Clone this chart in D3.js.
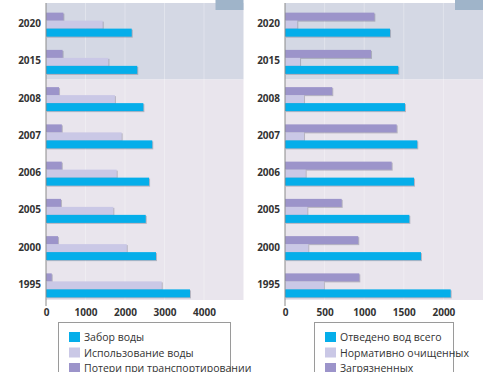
<!DOCTYPE html>
<html>
<head>
<meta charset="utf-8">
<script src="https://cdn.jsdelivr.net/npm/d3@7"></script>
<style>
  body { margin: 0; background: #fff; }
  text { font-family: "Open Sans", "Noto Sans", sans-serif; }
</style>
</head>
<body>
<script>
// years, top to bottom
var years = ["2020", "2015", "2008", "2007", "2006", "2005", "2000", "1995"];

// left panel: water intake / use / losses
var zabor = [2170, 2310, 2465, 2690, 2610, 2525, 2785, 3645];
var ispolz = [1435, 1580, 1745, 1915, 1790, 1705, 2045, 2930];
var poteri = [440, 420, 330, 400, 400, 380, 305, 145];
var leftTicks = [0, 1000, 2000, 3000, 4000];
var leftLegend = ["Забор воды", "Использование воды", "Потери при транспортировании"];

// right panel: discharged / treated / polluted
var otvedeno = [1326, 1430, 1515, 1670, 1629, 1570, 1717, 2092];
var ochisch = [155, 190, 240, 240, 261, 282, 294, 492];
var zagryaz = [1128, 1086, 597, 1410, 1347, 716, 925, 938];
var rightTicks = [0, 500, 1000, 1500, 2000];
var rightLegend = ["Отведено вод всего", "Нормативно очищенных", "Загрязненных"];

var colors = ["#05aeea", "#cac8e6", "#9c94ca"];

var width = 503, height = 372;
var svg = d3.select("body").append("svg")
    .attr("width", width)
    .attr("height", height);

var y = d3.scaleBand()
    .domain(years)
    .range([5, 303]);

drawPanel({
    x0: 46, x1: 243.5, max: 5000,
    ticks: leftTicks,
    series: [poteri, ispolz, zabor],
    legend: leftLegend,
    box: [58, 230]
});
drawPanel({
    x0: 285, x1: 483, max: 2500,
    ticks: rightTicks,
    series: [zagryaz, ochisch, otvedeno],
    legend: rightLegend,
    box: [314, 453]
});

function drawPanel(p){
    var x = d3.scaleLinear().domain([0, p.max]).range([p.x0, p.x1]);
    var g = svg.append("g");
    var split = y("2008");

    // backgrounds: forecast part darker
    g.append("rect")
        .attr("x", p.x0).attr("y", 3)
        .attr("width", p.x1 - p.x0).attr("height", split - 3)
        .attr("fill", "#d4d8e4");
    g.append("rect")
        .attr("x", p.x0).attr("y", split)
        .attr("width", p.x1 - p.x0).attr("height", 300 - split)
        .attr("fill", "#e9e5ed");
    // small tab in top corner
    g.append("rect")
        .attr("x", p.x1 - 28).attr("y", 0)
        .attr("width", 28).attr("height", 10)
        .attr("fill", "#9fb4c9");

    // faint grid
    g.selectAll(".grid")
        .data(p.ticks.slice(1))
        .enter().append("line")
        .attr("x1", function(d){ return x(d); })
        .attr("x2", function(d){ return x(d); })
        .attr("y1", 3).attr("y2", 300)
        .attr("stroke", "#ffffff").attr("stroke-opacity", 0.3);

    // bars: top = dark, middle = light, bottom = blue
    var offs = [-11, -3, 5];
    var order = [2, 1, 0]; // colour index for each series in p.series
    p.series.forEach(function(vals, s){
        g.selectAll(".b" + s)
            .data(vals)
            .enter().append("rect")
            .attr("x", x(0))
            .attr("y", function(d, i){ return y(years[i]) + y.bandwidth() / 2 + offs[s]; })
            .attr("width", function(d){ return x(d) - x(0); })
            .attr("height", 8)
            .attr("fill", colors[order[s]])
            .style("filter", "drop-shadow(1px 1px 0.6px rgba(90,90,110,0.35))");
    });

    // year labels
    g.selectAll(".yr")
        .data(years)
        .enter().append("text")
        .attr("x", p.x0 - 5)
        .attr("y", function(d){ return y(d) + y.bandwidth() / 2 + 3.5; })
        .attr("text-anchor", "end")
        .attr("font-size", 10).attr("font-weight", "bold")
        .attr("fill", "#333")
        .text(function(d){ return d; });

    // axis line
    g.append("line")
        .attr("x1", p.x0).attr("x2", p.x0)
        .attr("y1", 3).attr("y2", 306)
        .attr("stroke", "#8a8a8a");

    // tick labels
    var ax = d3.axisBottom(x).tickValues(p.ticks).tickFormat(d3.format("d"))
        .tickSize(0).tickPadding(0);
    var axg = g.append("g").attr("transform", "translate(0,309)").call(ax);
    axg.select(".domain").remove();
    axg.selectAll("text")
        .attr("font-family", "'Open Sans', sans-serif")
        .attr("font-size", 10).attr("font-weight", "bold")
        .attr("fill", "#333")
        .attr("dy", "0.71em");

    // legend
    var lg = g.append("g");
    lg.append("rect")
        .attr("x", p.box[0] + 0.5).attr("y", 322.5)
        .attr("width", p.box[1] - p.box[0]).attr("height", 60)
        .attr("fill", "#fff").attr("stroke", "#9a9a9a");
    p.legend.forEach(function(name, i){
        lg.append("rect")
            .attr("x", p.box[0] + 11).attr("y", 332 + i * 15.5)
            .attr("width", 11).attr("height", 10)
            .attr("fill", colors[i]);
        lg.append("text")
            .attr("x", p.box[0] + 26).attr("y", 341 + i * 15.5)
            .attr("font-size", 10.5)
            .attr("fill", "#333")
            .text(name);
    });
}
</script>
</body>
</html>
